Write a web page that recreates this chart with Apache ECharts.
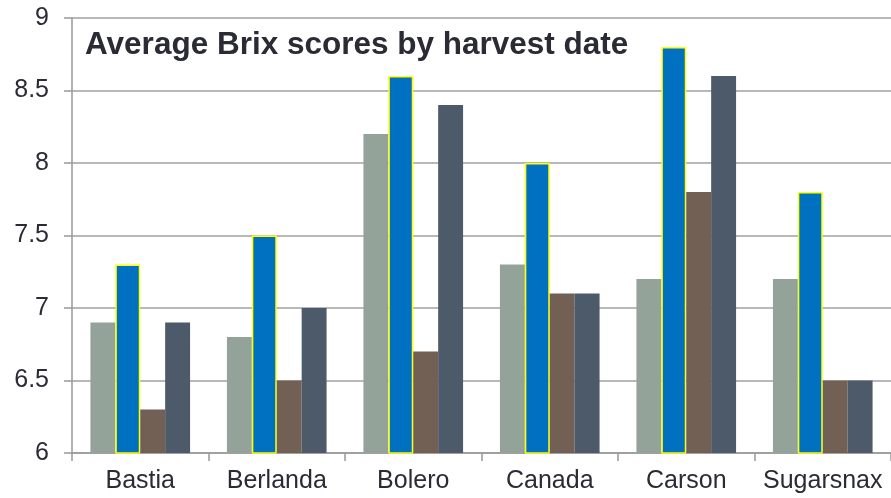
<!DOCTYPE html>
<html>
<head>
<meta charset="utf-8">
<script src="https://cdn.jsdelivr.net/npm/echarts@6/dist/echarts.min.js"></script>
<style>
  html, body { margin: 0; padding: 0; background: #fff; }
  #chart { width: 891px; height: 498px; }
</style>
</head>
<body>
<div id="chart"></div>
<script>
// varieties and the four harvest dates
const varieties = ['Bastia', 'Berlanda', 'Bolero', 'Canada', 'Carson', 'Sugarsnax']
const harvest1 = [6.9, 6.8, 8.2, 7.3, 7.2, 7.2]
const harvest2 = [7.3, 7.5, 8.6, 8.0, 8.8, 7.8]
const harvest3 = [6.3, 6.5, 6.7, 7.1, 7.8, 6.5]
const harvest4 = [6.9, 7.0, 8.4, 7.1, 8.6, 6.5]
const yTicks = [6, 6.5, 7, 7.5, 8, 8.5, 9]

const colors = ['#94A39A', '#0070C0', '#736055', '#4D5A6A']
const textColor = '#2b2b35'

function barSeries(data, i) {
  const s = {
    type: 'bar',
    data: data,
    barGap: '0%',
    barCategoryGap: '27%',
    itemStyle: { color: colors[i] }
  }
  if (i === 1) {
    s.itemStyle.borderColor = '#FFFF00'
    s.itemStyle.borderWidth = 1.5
  }
  return s
}

const chart = echarts.init(document.getElementById('chart'), null, { renderer: 'canvas' })
chart.setOption({
  animation: false,
  textStyle: { fontFamily: 'Liberation Sans, Arial, sans-serif' },
  title: {
    text: 'Average Brix scores by harvest date',
    left: 80,
    top: 24,
    textStyle: { fontSize: 31.5, fontWeight: 'bold', color: textColor }
  },
  grid: { left: 72, right: 0, top: 18, bottom: 45 },
  xAxis: {
    type: 'category',
    data: varieties,
    axisLine: { lineStyle: { color: '#999', width: 1.5 } },
    axisTick: { show: true, interval: 0, length: 8, lineStyle: { color: '#999', width: 1.5 } },
    axisLabel: { interval: 0, fontSize: 25, color: textColor, margin: 16 }
  },
  yAxis: {
    type: 'value',
    min: yTicks[0],
    max: yTicks[yTicks.length - 1],
    interval: 0.5,
    axisLine: { show: true, lineStyle: { color: '#999', width: 1.5 } },
    axisTick: { show: true, length: 8, lineStyle: { color: '#999', width: 1.5 } },
    axisLabel: { fontSize: 25, color: textColor, margin: 23 },
    splitLine: { lineStyle: { color: '#A0A0A0', width: 1.5 } }
  },
  series: [harvest1, harvest2, harvest3, harvest4].map(barSeries)
})
</script>
</body>
</html>
